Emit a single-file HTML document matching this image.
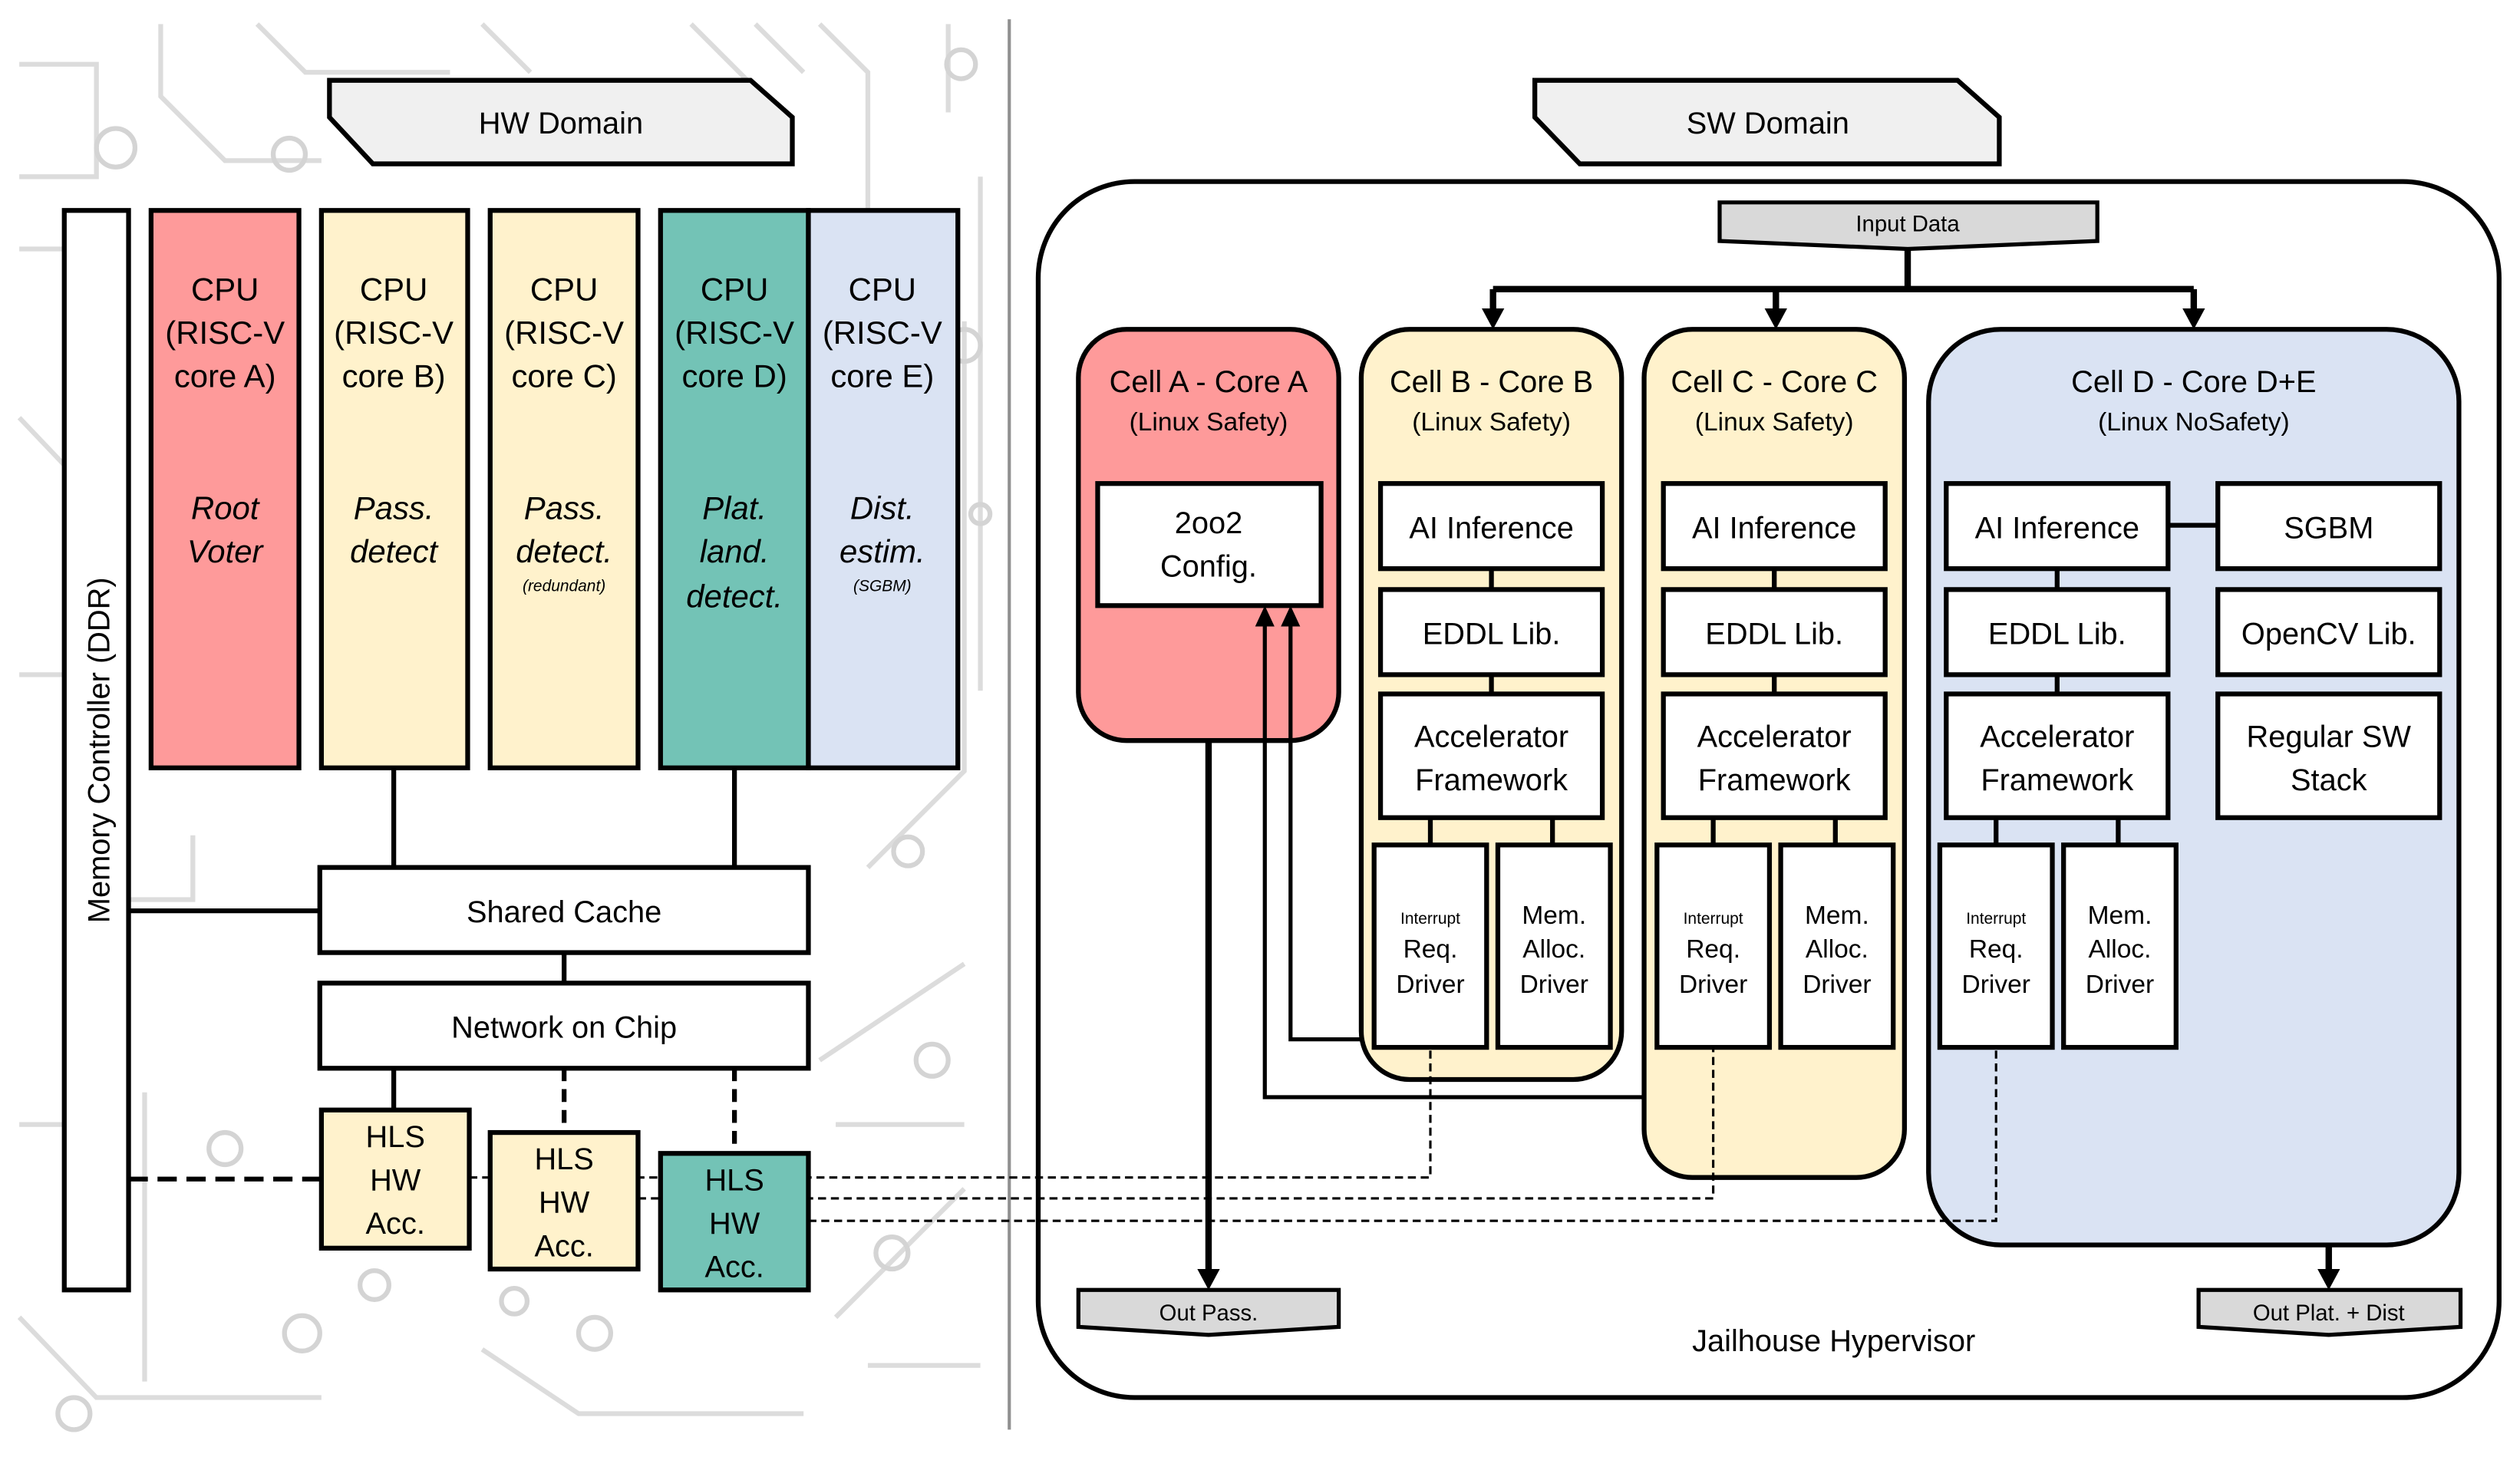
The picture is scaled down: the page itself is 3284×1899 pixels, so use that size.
<!DOCTYPE html>
<html><head><meta charset="utf-8"><style>
html,body{margin:0;padding:0;background:#fff}
svg{display:block}
text{font-family:"Liberation Sans","DejaVu Sans",sans-serif;fill:#000;text-anchor:middle}
</style></head><body>
<svg width="3284" height="1899" viewBox="0 0 1568 907" preserveAspectRatio="none" xmlns="http://www.w3.org/2000/svg">
<!-- circuit background -->
<g stroke="#dcdcdc" stroke-width="3" fill="none">
<path d="M12 40 L60 40 L60 110 L12 110"/><path d="M100 15 L100 60 L140 100 L200 100"/>
<path d="M160 15 L190 45 L280 45"/><path d="M300 15 L330 45"/><path d="M430 15 L470 55"/>
<path d="M470 15 L500 45"/><path d="M510 15 L540 45 L540 130"/><path d="M590 15 L590 70"/>
<path d="M12 155 L60 155"/><path d="M12 260 L50 300 L50 360"/><path d="M12 420 L60 420"/>
<path d="M12 820 L60 870 L200 870"/><path d="M12 700 L40 700"/><path d="M90 680 L90 860"/>
<path d="M540 540 L600 480 L600 200"/><path d="M610 110 L610 430"/><path d="M520 820 L600 740"/>
<path d="M300 840 L360 880 L500 880"/><path d="M510 660 L600 600"/><path d="M540 850 L610 850"/>
<path d="M120 520 L120 560 L80 560"/><path d="M520 700 L600 700"/>
</g>
<g stroke="#d4d4d4" stroke-width="3" fill="none">
<circle cx="72" cy="92" r="12"/><circle cx="180" cy="96" r="10"/><circle cx="598" cy="40" r="9"/>
<circle cx="600" cy="215" r="10"/><circle cx="140" cy="715" r="10"/><circle cx="233" cy="800" r="9"/>
<circle cx="188" cy="830" r="11"/><circle cx="580" cy="660" r="10"/><circle cx="565" cy="530" r="9"/>
<circle cx="320" cy="810" r="8"/><circle cx="370" cy="830" r="10"/><circle cx="46" cy="880" r="10"/>
<circle cx="610" cy="320" r="6"/><circle cx="555" cy="780" r="10"/>
</g>
<line x1="628" y1="12" x2="628" y2="890" stroke="#909090" stroke-width="2"/>

<!-- HW domain banner -->
<polygon points="205,50 467,50 493,73 493,102 232,102 205,73" fill="#f0f0f0" stroke="#000" stroke-width="3"/>
<text x="349" y="83" font-size="19">HW Domain</text>
<polygon points="955,50 1218,50 1244,73 1244,102 983,102 955,73" fill="#f0f0f0" stroke="#000" stroke-width="3"/>
<text x="1100" y="83" font-size="19">SW Domain</text>

<!-- memory controller -->
<rect x="40" y="131" width="40" height="672" fill="#fff" stroke="#000" stroke-width="3"/>
<text x="0" y="0" font-size="19" transform="translate(68,467) rotate(-90)">Memory Controller (DDR)</text>

<!-- CPUs -->
<g stroke="#000" stroke-width="3">
<rect x="94" y="131" width="92" height="347" fill="#fe9a9a"/>
<rect x="200" y="131" width="91" height="347" fill="#fff2cc"/>
<rect x="305" y="131" width="92" height="347" fill="#fff2cc"/>
<rect x="411" y="131" width="92" height="347" fill="#73c3b6"/>
<rect x="503" y="131" width="93" height="347" fill="#dae3f3"/>
</g>
<g font-size="20">
<text x="140" y="187">CPU</text><text x="140" y="214">(RISC-V</text><text x="140" y="241">core A)</text>
<text x="245" y="187">CPU</text><text x="245" y="214">(RISC-V</text><text x="245" y="241">core B)</text>
<text x="351" y="187">CPU</text><text x="351" y="214">(RISC-V</text><text x="351" y="241">core C)</text>
<text x="457" y="187">CPU</text><text x="457" y="214">(RISC-V</text><text x="457" y="241">core D)</text>
<text x="549" y="187">CPU</text><text x="549" y="214">(RISC-V</text><text x="549" y="241">core E)</text>
</g>
<g font-size="20" font-style="italic">
<text x="140" y="323">Root</text><text x="140" y="350">Voter</text>
<text x="245" y="323">Pass.</text><text x="245" y="350">detect</text>
<text x="351" y="323">Pass.</text><text x="351" y="350">detect.</text>
<text x="457" y="323">Plat.</text><text x="457" y="350">land.</text><text x="457" y="378">detect.</text>
<text x="549" y="323">Dist.</text><text x="549" y="350">estim.</text>
</g>
<g font-size="10" font-style="italic"><text x="351" y="368">(redundant)</text><text x="549" y="368">(SGBM)</text></g>

<!-- Jailhouse -->
<rect x="646" y="113" width="909" height="757" rx="60" fill="none" stroke="#000" stroke-width="3"/>
<text x="1141" y="841" font-size="19">Jailhouse Hypervisor</text>
<polygon points="1070,126 1305,126 1305,150 1187,155 1070,150" fill="#d9d9d9" stroke="#000" stroke-width="2.5"/>
<text x="1187" y="144" font-size="14">Input Data</text>
<g stroke="#000" stroke-width="4" fill="none">
<line x1="1187" y1="155" x2="1187" y2="180"/>
<line x1="929" y1="180" x2="1365" y2="180"/>
<line x1="929" y1="180" x2="929" y2="194"/><line x1="1105" y1="180" x2="1105" y2="194"/><line x1="1365" y1="180" x2="1365" y2="194"/>
</g>
<g fill="#000">
<polygon points="922,192 936,192 929,205"/><polygon points="1098,192 1112,192 1105,205"/><polygon points="1358,192 1372,192 1365,205"/>
</g>

<!-- cells -->
<g stroke="#000" stroke-width="3">
<rect x="671" y="205" width="162" height="256" rx="30" fill="#fe9a9a"/>
<rect x="847" y="205" width="162" height="467" rx="30" fill="#fff2cc"/>
<rect x="1023" y="205" width="162" height="528" rx="30" fill="#fff2cc"/>
<rect x="1200" y="205" width="330" height="570" rx="45" fill="#dae3f3"/>
</g>
<g font-size="19">
<text x="752" y="244">Cell A - Core A</text><text x="928" y="244">Cell B - Core B</text>
<text x="1104" y="244">Cell C - Core C</text><text x="1365" y="244">Cell D - Core D+E</text>
</g>
<g font-size="16">
<text x="752" y="268">(Linux Safety)</text><text x="928" y="268">(Linux Safety)</text>
<text x="1104" y="268">(Linux Safety)</text><text x="1365" y="268">(Linux NoSafety)</text>
</g>
<rect x="683" y="301" width="139" height="76" fill="#fff" stroke="#000" stroke-width="3"/>
<text x="752" y="332" font-size="19">2oo2</text><text x="752" y="359" font-size="19">Config.</text>

<!-- cell stacks -->
<g stroke="#000" stroke-width="3">
<line x1="928" y1="354" x2="928" y2="432"/><line x1="890" y1="509" x2="890" y2="526"/><line x1="966" y1="509" x2="966" y2="526"/>
<line x1="1104" y1="354" x2="1104" y2="432"/><line x1="1066" y1="509" x2="1066" y2="526"/><line x1="1142" y1="509" x2="1142" y2="526"/>
<line x1="1280" y1="354" x2="1280" y2="432"/><line x1="1242" y1="509" x2="1242" y2="526"/><line x1="1318" y1="509" x2="1318" y2="526"/>
<line x1="1349" y1="327" x2="1380" y2="327"/>
</g>
<g stroke="#000" stroke-width="3" fill="#fff">
<rect x="859" y="301" width="138" height="53"/><rect x="859" y="367" width="138" height="53"/><rect x="859" y="432" width="138" height="77"/>
<rect x="855" y="526" width="70" height="126"/><rect x="932" y="526" width="70" height="126"/>
<rect x="1035" y="301" width="138" height="53"/><rect x="1035" y="367" width="138" height="53"/><rect x="1035" y="432" width="138" height="77"/>
<rect x="1031" y="526" width="70" height="126"/><rect x="1108" y="526" width="70" height="126"/>
<rect x="1211" y="301" width="138" height="53"/><rect x="1211" y="367" width="138" height="53"/><rect x="1211" y="432" width="138" height="77"/>
<rect x="1207" y="526" width="70" height="126"/><rect x="1284" y="526" width="70" height="126"/>
<rect x="1380" y="301" width="138" height="53"/><rect x="1380" y="367" width="138" height="53"/><rect x="1380" y="432" width="138" height="77"/>
</g>
<g font-size="19">
<text x="928" y="335">AI Inference</text><text x="928" y="401">EDDL Lib.</text><text x="928" y="465">Accelerator</text><text x="928" y="492">Framework</text>
<text x="1104" y="335">AI Inference</text><text x="1104" y="401">EDDL Lib.</text><text x="1104" y="465">Accelerator</text><text x="1104" y="492">Framework</text>
<text x="1280" y="335">AI Inference</text><text x="1280" y="401">EDDL Lib.</text><text x="1280" y="465">Accelerator</text><text x="1280" y="492">Framework</text>
<text x="1449" y="335">SGBM</text><text x="1449" y="401">OpenCV Lib.</text><text x="1449" y="465">Regular SW</text><text x="1449" y="492">Stack</text>
</g>
<g font-size="10">
<text x="890" y="575">Interrupt</text><text x="1066" y="575">Interrupt</text><text x="1242" y="575">Interrupt</text>
</g>
<g font-size="16">
<text x="890" y="596">Req.</text><text x="890" y="618">Driver</text>
<text x="967" y="575">Mem.</text><text x="967" y="596">Alloc.</text><text x="967" y="618">Driver</text>
<text x="1066" y="596">Req.</text><text x="1066" y="618">Driver</text>
<text x="1143" y="575">Mem.</text><text x="1143" y="596">Alloc.</text><text x="1143" y="618">Driver</text>
<text x="1242" y="596">Req.</text><text x="1242" y="618">Driver</text>
<text x="1319" y="575">Mem.</text><text x="1319" y="596">Alloc.</text><text x="1319" y="618">Driver</text>
</g>

<!-- feedback arrows to 2oo2 -->
<g stroke="#000" stroke-width="2.5" fill="none">
<polyline points="847,647 803,647 803,390"/>
<polyline points="1023,683 787,683 787,390"/>
</g>
<g fill="#000"><polygon points="797,390 809,390 803,377"/><polygon points="781,390 793,390 787,377"/></g>

<!-- dashed interrupt lines (below HLS boxes) -->
<g stroke="#000" stroke-width="1.5" fill="none" stroke-dasharray="5,3">
<polyline points="292,733 890,733 890,652"/>
<polyline points="397,746 1066,746 1066,652"/>
<polyline points="503,760 1242,760 1242,652"/>
</g>

<!-- cache / noc / HLS -->
<g stroke="#000" stroke-width="3">
<line x1="245" y1="478" x2="245" y2="540"/><line x1="457" y1="478" x2="457" y2="540"/>
<line x1="80" y1="567" x2="199" y2="567"/><line x1="351" y1="593" x2="351" y2="612"/>
<line x1="245" y1="665" x2="245" y2="691"/>
<line x1="351" y1="665" x2="351" y2="705" stroke-dasharray="8,5"/>
<line x1="457" y1="665" x2="457" y2="718" stroke-dasharray="8,5"/>
<line x1="80" y1="734" x2="200" y2="734" stroke-dasharray="12,6"/>
<rect x="199" y="540" width="304" height="53" fill="#fff"/>
<rect x="199" y="612" width="304" height="53" fill="#fff"/>
<rect x="200" y="691" width="92" height="86" fill="#fff2cc"/>
<rect x="305" y="705" width="92" height="85" fill="#fff2cc"/>
<rect x="411" y="718" width="92" height="85" fill="#73c3b6"/>
</g>
<text x="351" y="574" font-size="19">Shared Cache</text>
<text x="351" y="646" font-size="19">Network on Chip</text>
<g font-size="19">
<text x="246" y="714">HLS</text><text x="246" y="741">HW</text><text x="246" y="768">Acc.</text>
<text x="351" y="728">HLS</text><text x="351" y="755">HW</text><text x="351" y="782">Acc.</text>
<text x="457" y="741">HLS</text><text x="457" y="768">HW</text><text x="457" y="795">Acc.</text>
</g>

<!-- outputs -->
<line x1="752" y1="461" x2="752" y2="792" stroke="#000" stroke-width="4"/>
<polygon points="745,790 759,790 752,803" fill="#000"/>
<line x1="1449" y1="775" x2="1449" y2="792" stroke="#000" stroke-width="4"/>
<polygon points="1442,790 1456,790 1449,803" fill="#000"/>
<polygon points="671,803 833,803 833,826 752,831 671,826" fill="#d9d9d9" stroke="#000" stroke-width="2.5"/>
<text x="752" y="822" font-size="14">Out Pass.</text>
<polygon points="1368,803 1531,803 1531,826 1449,831 1368,826" fill="#d9d9d9" stroke="#000" stroke-width="2.5"/>
<text x="1449" y="822" font-size="14">Out Plat. + Dist</text>
</svg>
</body></html>
